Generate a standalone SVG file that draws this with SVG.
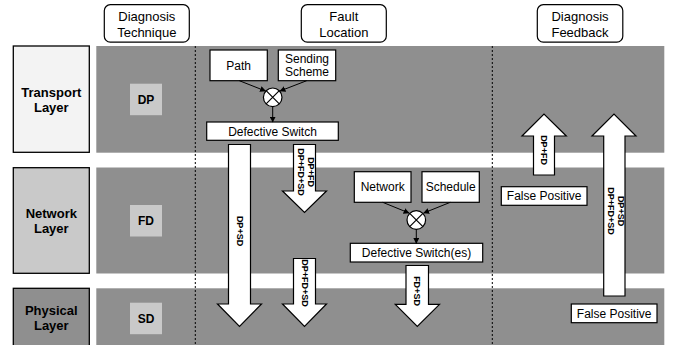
<svg xmlns="http://www.w3.org/2000/svg" width="677" height="345" viewBox="0 0 677 345">
<style>
text{font-family:"Liberation Sans",Arial,sans-serif;fill:#000}
.hdr{font-size:13px;text-anchor:middle}
.lyr{font-size:13px;font-weight:bold;text-anchor:middle}
.tech{font-size:12px;font-weight:bold;text-anchor:middle}
.box{fill:#fff;stroke:#000;stroke-width:1.2}
.lbl{font-size:12px;text-anchor:middle}
.rot{font-size:9px;font-weight:bold;text-anchor:middle}
.band{fill:#8f8f8f}
.sq{fill:#c9c9c9}
.big{fill:#fff;stroke:#000;stroke-width:1.2;stroke-linejoin:miter}
.dash{stroke:#000;stroke-width:1;stroke-dasharray:2,2;fill:none}
.con{stroke:#000;stroke-width:1;fill:none;marker-end:url(#ah)}
</style>
<defs>
<marker id="ah" viewBox="0 0 10 10" refX="9" refY="5" markerWidth="6" markerHeight="6" orient="auto" markerUnits="userSpaceOnUse">
<path d="M0,0 L10,5 L0,10 z" fill="#000"/>
</marker>
</defs>
<rect width="677" height="345" fill="#fff"/>
<g id="bands">
<rect class="band" x="96.3" y="46" width="568" height="106.7"/>
<rect class="band" x="96.3" y="167.5" width="568" height="106"/>
<rect class="band" x="96.3" y="288.3" width="568" height="57"/>
<line class="dash" x1="195.3" y1="46" x2="195.3" y2="345"/>
<line class="dash" x1="492.3" y1="46" x2="492.3" y2="345"/>
</g>
<g id="hdr-technique">
<rect class="box" x="104.3" y="4.7" width="85" height="37.5" rx="6"/>
<text class="hdr" x="146.8" y="20.7">Diagnosis</text>
<text class="hdr" x="146.8" y="36.7">Technique</text>
</g>
<g id="hdr-location">
<rect class="box" x="301.3" y="4.7" width="85" height="37.5" rx="6"/>
<text class="hdr" x="343.8" y="20.7">Fault</text>
<text class="hdr" x="343.8" y="36.7">Location</text>
</g>
<g id="hdr-feedback">
<rect class="box" x="537.3" y="4.7" width="85.5" height="37.5" rx="6"/>
<text class="hdr" x="580" y="20.7">Diagnosis</text>
<text class="hdr" x="580" y="36.7">Feedback</text>
</g>
<g id="transport">
<rect x="13.3" y="46" width="76" height="106.3" fill="#f3f3f3" stroke="#000" stroke-width="1.3"/>
<text class="lyr" x="51.3" y="97">Transport</text>
<text class="lyr" x="51.3" y="112">Layer</text>
</g>
<g id="network">
<rect x="13.3" y="167.7" width="76" height="105.6" fill="#c9c9c9" stroke="#000" stroke-width="1.3"/>
<text class="lyr" x="51.3" y="218">Network</text>
<text class="lyr" x="51.3" y="233">Layer</text>
</g>
<g id="physical">
<rect x="13.3" y="288.3" width="76" height="60" fill="#8f8f8f" stroke="#000" stroke-width="1.3"/>
<text class="lyr" x="51.3" y="315">Physical</text>
<text class="lyr" x="51.3" y="330">Layer</text>
</g>
<g id="dp">
<rect class="sq" x="130" y="83.7" width="32" height="31.5"/>
<text class="tech" x="146" y="103.8">DP</text>
</g>
<g id="fd">
<rect class="sq" x="130" y="205" width="32" height="31.5"/>
<text class="tech" x="146" y="225">FD</text>
</g>
<g id="sd">
<rect class="sq" x="130" y="302.7" width="32" height="31.5"/>
<text class="tech" x="146" y="322.7">SD</text>
</g>
<g id="path">
<rect class="box" x="210" y="50" width="57.3" height="30.7"/>
<text class="lbl" x="238.7" y="69.8">Path</text>
</g>
<g id="sending-scheme">
<rect class="box" x="278.3" y="50" width="57.4" height="30.7"/>
<text class="lbl" x="307" y="62.5">Sending</text>
<text class="lbl" x="307" y="76">Scheme</text>
</g>
<g id="combine1">
<circle cx="272.7" cy="97.3" r="9.3" fill="#fff" stroke="#000" stroke-width="1.2"/>
<path d="M266.1,90.7 L279.3,103.9 M279.3,90.7 L266.1,103.9" stroke="#000" stroke-width="1.2"/>
</g>
<g id="defective-switch">
<rect class="box" x="206.7" y="122" width="131.6" height="18.3"/>
<text class="lbl" x="272.5" y="135.5">Defective Switch</text>
</g>
<g id="network-box">
<rect class="box" x="354.3" y="171.7" width="56.7" height="30.6"/>
<text class="lbl" x="382.7" y="191">Network</text>
</g>
<g id="schedule">
<rect class="box" x="422" y="171.7" width="57.3" height="30.6"/>
<text class="lbl" x="450.7" y="190.5">Schedule</text>
</g>
<g id="combine2">
<circle cx="416.3" cy="220" r="9.3" fill="#fff" stroke="#000" stroke-width="1.2"/>
<path d="M409.7,213.4 L422.9,226.6 M422.9,213.4 L409.7,226.6" stroke="#000" stroke-width="1.2"/>
</g>
<g id="defective-switches">
<rect class="box" x="350.3" y="243.3" width="132.4" height="18.7"/>
<text class="lbl" x="416.5" y="257">Defective Switch(es)</text>
</g>
<g id="false-positive-1">
<rect class="box" x="501.3" y="186.7" width="85.7" height="18.6"/>
<text class="lbl" x="544.2" y="200.3">False Positive</text>
</g>
<g id="false-positive-2">
<rect class="box" x="571.3" y="304" width="85.7" height="18.7"/>
<text class="lbl" x="614.2" y="317.6">False Positive</text>
</g>
<g id="connectors">
<line class="con" x1="239.3" y1="80.7" x2="265.5" y2="91"/>
<line class="con" x1="306.7" y1="80.7" x2="280" y2="91"/>
<line class="con" x1="272.7" y1="106.6" x2="272.7" y2="122"/>
<line class="con" x1="382.7" y1="202.3" x2="409" y2="213"/>
<line class="con" x1="450.3" y1="202.3" x2="423.7" y2="213"/>
<line class="con" x1="416.3" y1="229.3" x2="416.3" y2="243.3"/>
<g id="arrow-dp-sd">
<polygon class="big" points="228.5,144.5 250.5,144.5 250.5,304 261.5,304 239.5,326.5 217.5,304 228.5,304"/>
<text class="rot" transform="translate(236.5,231) rotate(90)">DP+SD</text>
</g>
<g id="arrow-dp-fd">
<polygon class="big" points="293.5,144.5 315.5,144.5 315.5,191 326.5,191 304.5,212.5 282.5,191 293.5,191"/>
<text class="rot" transform="translate(307.7,172) rotate(90)">DP+FD</text>
<text class="rot" transform="translate(298.2,172) rotate(90)">DP+FD+SD</text>
</g>
<g id="arrow-dp-fd-sd">
<polygon class="big" points="293.5,258.5 315.5,258.5 315.5,304 326.5,304 304.5,326.5 282.5,304 293.5,304"/>
<text class="rot" transform="translate(301.5,283) rotate(90)">DP+FD+SD</text>
</g>
<g id="arrow-fd-sd">
<polygon class="big" points="406,265.5 428.5,265.5 428.5,304.3 439.5,304.3 417.3,326.5 395.3,304.3 406,304.3"/>
<text class="rot" transform="translate(414.3,291) rotate(90)">FD+SD</text>
</g>
<g id="arrow-up-1">
<polygon class="big" points="533.5,175 554.5,175 554.5,136 566.3,136 544,114 522,136 533.5,136"/>
<text class="rot" transform="translate(541,150) rotate(90)">DP+FD</text>
</g>
<g id="arrow-up-2">
<polygon class="big" points="603.7,296 625,296 625,136 636,136 614,114 592,136 603.7,136"/>
<text class="rot" transform="translate(617.5,211) rotate(90)">DP+SD</text>
<text class="rot" transform="translate(608,211) rotate(90)">DP+FD+SD</text>
</g>
</g>
</svg>
